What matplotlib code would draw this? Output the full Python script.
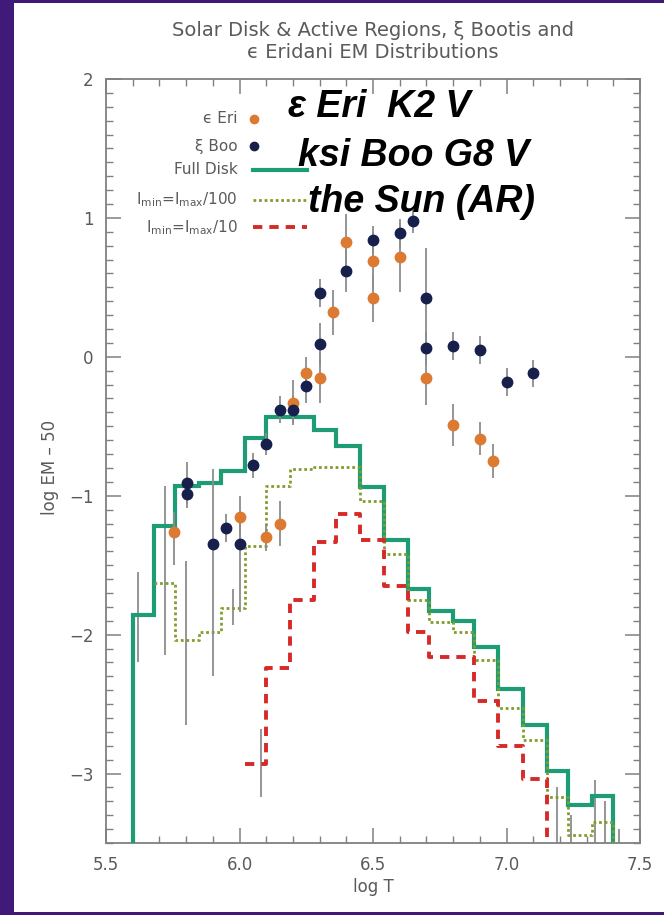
import matplotlib.pyplot as plt
from matplotlib import font_manager
from matplotlib.patches import Rectangle
from matplotlib.ticker import MultipleLocator, FormatStrFormatter

# temperature bin edges (log T) of the solar EM histograms
edges = [5.60, 5.68, 5.76, 5.85, 5.93, 6.02, 6.10, 6.19, 6.28, 6.36, 6.45,
         6.54, 6.63, 6.71, 6.80, 6.88, 6.97, 7.06, 7.15, 7.23, 7.32, 7.40]

# solar EM per bin
full_disk = [-1.86, -1.22, -0.93, -0.91, -0.82, -0.585, -0.43, -0.43, -0.53, -0.64, -0.94,
             -1.32, -1.67, -1.83, -1.90, -2.09, -2.39, -2.65, -2.98, -3.23, -3.16]
imax100 = [-1.63, -2.04, -1.98, -1.81, -1.36, -0.93, -0.81, -0.79, -0.79, -1.04,
           -1.42, -1.75, -1.91, -1.98, -2.18, -2.53, -2.76, -3.17, -3.44, -3.35]   # from 5.68
imax10 = [-2.93, -2.24, -1.75, -1.33, -1.13, -1.32, -1.65, -1.98, -2.16, -2.16,
          -2.48, -2.80, -3.04]                                                   # from 6.02

# eps Eri
eri_t = [5.755, 6.00, 6.10, 6.15, 6.20, 6.25, 6.30, 6.35, 6.40, 6.50, 6.50, 6.60, 6.70, 6.80, 6.90, 6.95]
eri_em = [-1.26, -1.15, -1.30, -1.20, -0.33, -0.12, -0.15, 0.32, 0.83, 0.69, 0.42, 0.72, -0.15, -0.49, -0.59, -0.75]
eri_lo = [0.24, 0.15, 0.10, 0.16, 0.16, 0.12, 0.18, 0.16, 0.20, 0.20, 0.17, 0.25, 0.20, 0.15, 0.12, 0.12]
eri_hi = [0.14, 0.15, 0.10, 0.16, 0.16, 0.12, 0.18, 0.16, 0.20, 0.20, 0.17, 0.25, 0.20, 0.15, 0.12, 0.12]

# xi Boo
boo_t = [5.805, 5.805, 5.90, 5.95, 6.00, 6.05, 6.10, 6.15, 6.20, 6.25, 6.30, 6.30, 6.40, 6.50,
         6.60, 6.65, 6.70, 6.70, 6.80, 6.90, 7.00, 7.10]
boo_em = [-0.91, -0.99, -1.35, -1.23, -1.35, -0.78, -0.63, -0.38, -0.38, -0.21, 0.09, 0.46, 0.62, 0.84,
          0.89, 0.98, 0.42, 0.06, 0.08, 0.05, -0.18, -0.12]
boo_lo = [0.15, 0.10, 0.95, 0.10, 0.49, 0.09, 0.08, 0.10, 0.10, 0.12, 0.15, 0.10, 0.15, 0.10,
          0.10, 0.09, 0.36, 0.12, 0.10, 0.10, 0.10, 0.10]
boo_hi = [0.15, 0.10, 0.54, 0.10, 0.20, 0.09, 0.08, 0.10, 0.10, 0.12, 0.15, 0.10, 0.15, 0.10,
          0.10, 0.09, 0.36, 0.12, 0.10, 0.10, 0.10, 0.10]

# error bars on the solar bins
sun_bar_t = [5.62, 5.72, 5.80, 5.975, 6.08, 7.19, 7.24, 7.33, 7.37, 7.42]
sun_bar_lo = [-2.20, -2.15, -2.65, -1.93, -3.17, -3.50, -3.50, -3.50, -3.50, -3.50]
sun_bar_hi = [-1.55, -0.93, -1.47, -1.67, -2.68, -3.10, -3.30, -3.05, -3.20, -3.40]

ORANGE = '#dd7a32'
NAVY = '#17204c'
GREEN = '#1e9c76'
OLIVE = '#809e2e'
RED = '#d62a28'
GRAY = '#8c8c8c'
TXT = '#5a5a5a'
FLOOR = -4.0

names = {f.name for f in font_manager.fontManager.ttflist}
if 'Liberation Sans Narrow' in names:
    big_font, big_size = 'Liberation Sans Narrow', 33
else:
    big_font, big_size = 'Liberation Sans', 27

fig = plt.figure(figsize=(6.64, 9.15), dpi=100)
fig.patch.set_facecolor('#401a78')
fig.add_artist(Rectangle((14 / 664, 3 / 915), 650 / 664, 909 / 915,
                         transform=fig.transFigure, facecolor='white', edgecolor='none', zorder=0))

ax = fig.add_axes([106 / 664, 1 - 843 / 915, 534 / 664, 764 / 915])
ax.set_facecolor('white')

# solar histograms
ax.stairs(full_disk, edges, baseline=FLOOR, color=GREEN, lw=3.0, zorder=3)
ax.plot(edges[1:] + [edges[-1]], imax100 + [imax100[-1], FLOOR], drawstyle='steps-post',
        color=OLIVE, lw=2.0, ls=(0, (1, 1)), zorder=3)
ax.plot(edges[5:19] + [edges[18]], imax10 + [imax10[-1], FLOOR], drawstyle='steps-post',
        color=RED, lw=2.8, ls=(0, (2.4, 1.8)), zorder=3)
ax.vlines(sun_bar_t, sun_bar_lo, sun_bar_hi, color=GRAY, lw=1.3, zorder=2)

# stellar points
ax.errorbar(eri_t, eri_em, yerr=[eri_lo, eri_hi], fmt='o', color=ORANGE, mec=ORANGE,
            ms=7.5, ecolor=GRAY, elinewidth=1.3, capsize=0, zorder=4)
ax.errorbar(boo_t, boo_em, yerr=[boo_lo, boo_hi], fmt='o', color=NAVY, mec=NAVY,
            ms=7.5, ecolor=GRAY, elinewidth=1.3, capsize=0, zorder=4)

ax.set_xlim(5.5, 7.5)
ax.set_ylim(-3.5, 2)
ax.xaxis.set_major_locator(MultipleLocator(0.5))
ax.xaxis.set_minor_locator(MultipleLocator(0.1))
ax.xaxis.set_major_formatter(FormatStrFormatter('%.1f'))
ax.yaxis.set_major_locator(MultipleLocator(1))
ax.yaxis.set_minor_locator(MultipleLocator(0.1))
ax.tick_params(which='both', direction='in', top=True, right=True, color='#808080',
               labelcolor=TXT, labelsize=12)
ax.tick_params(which='major', length=11, width=1.1, pad=9)
ax.tick_params(which='minor', length=5, width=1.0)
for s in ax.spines.values():
    s.set_color('#808080')
    s.set_linewidth(1.3)

ax.set_xlabel('log T', fontsize=12, color=TXT)
ax.set_ylabel('log EM \u2013 50', fontsize=12, color=TXT)
ax.xaxis.set_label_coords(0.5, -0.046)
ax.yaxis.set_label_coords(-0.088, 0.492)

fig.text(373 / 664, 1 - 31 / 915, 'Solar Disk & Active Regions, \u03be Bootis and',
         ha='center', va='center', fontsize=14, color=TXT)
fig.text(373 / 664, 1 - 52 / 915, '\u03f5 Eridani EM Distributions',
         ha='center', va='center', fontsize=14, color=TXT)

# key
key = [('\u03f5 Eri', 0.948), ('\u03be Boo', 0.912), ('Full Disk', 0.881),
       (r'I$_{\rm min}$=I$_{\rm max}$/100', 0.842), (r'I$_{\rm min}$=I$_{\rm max}$/10', 0.806)]
for label, ky in key:
    ax.text(0.247, ky, label, transform=ax.transAxes, ha='right', va='center',
            fontsize=11, color=TXT)
ax.plot([0.277], [0.948], 'o', color=ORANGE, ms=6, transform=ax.transAxes)
ax.plot([0.277], [0.912], 'o', color=NAVY, ms=6, transform=ax.transAxes)
ax.plot([0.275, 0.376], [0.881, 0.881], color=GREEN, lw=3.0, transform=ax.transAxes)
ax.plot([0.275, 0.376], [0.842, 0.842], color=OLIVE, lw=2.0, ls=(0, (1, 1)), transform=ax.transAxes)
ax.plot([0.275, 0.376], [0.806, 0.806], color=RED, lw=2.8, ls=(0, (2.4, 1.8)), transform=ax.transAxes)

# star names
for label, lx, ly in [('\u03b5 Eri  K2 V', 0.341, 0.950),
                      ('ksi Boo G8 V', 0.360, 0.886),
                      ('the Sun (AR)', 0.378, 0.826)]:
    ax.text(lx, ly, label, transform=ax.transAxes, ha='left', va='baseline',
            fontsize=big_size, family=[big_font, 'DejaVu Sans'], fontweight='bold',
            fontstyle='italic', color='black', zorder=6)

fig.savefig('out.png', dpi=100, facecolor=fig.get_facecolor())
